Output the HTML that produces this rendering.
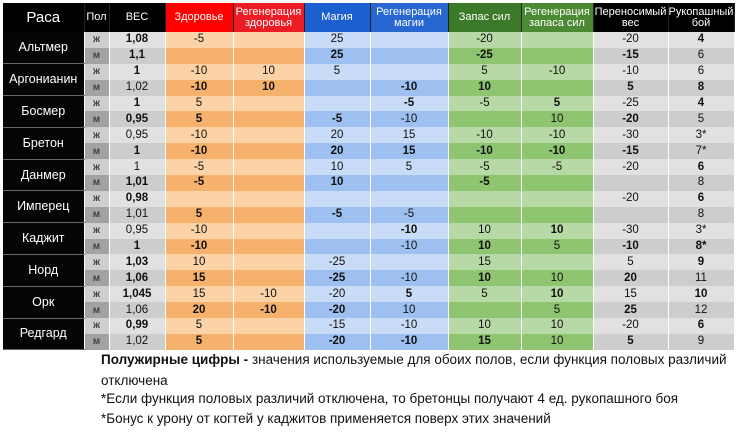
<!DOCTYPE html>
<html><head><meta charset="utf-8"><style>
body{margin:0;background:#fff;width:740px;height:445px;overflow:hidden;font-family:"Liberation Sans",Arial,sans-serif}
table{position:absolute;left:3px;top:3px;border-collapse:collapse;table-layout:fixed;width:731px}
td,th{padding:0;text-align:center;font-size:11.5px;color:#111;overflow:hidden}
td{white-space:nowrap}
th{height:29px;color:#fff;font-weight:normal;line-height:11px;font-size:11px;border-right:1px solid #222;white-space:normal}
th.big{font-size:15px}
tr.d td{height:15.9px;line-height:15px;border-right:1px solid rgba(255,255,255,.35)}
td.race{background:#050505;color:#fff;font-size:12.5px;border-bottom:1px solid #666}
tr.f td.p{background:#cfcfcf;color:#444;font-weight:bold;font-size:10px}
tr.m td.p{background:#a2a2a2;color:#444;font-weight:bold;font-size:10px}
tr.f td.w,tr.f td.r{background:#e1e1e1}
tr.m td.w,tr.m td.r{background:#cdcdcd}
tr.f td.o{background:#fbd3a6}
tr.m td.o{background:#f6b26d}
tr.f td.b{background:#c8dbf7}
tr.m td.b{background:#9ec0f1}
tr.f td.g{background:#b7d9a5}
tr.m td.g{background:#8fc470}
b{font-weight:bold}
.note{position:absolute;left:101px;font-size:13.5px;color:#111;white-space:nowrap}
</style></head><body>
<table>
<colgroup><col style="width:81px"><col style="width:25px"><col style="width:56px"><col style="width:68px"><col style="width:71px"><col style="width:66px"><col style="width:78px"><col style="width:73px"><col style="width:72px"><col style="width:75px"><col style="width:66px"></colgroup>
<tr><th class="big" style="background:#000">Раса</th><th style="background:#000">Пол</th><th style="background:#000">ВЕС</th><th style="background:#f00">Здоровье</th><th style="background:#ec1c24">Регенерация<br>здоровья</th><th style="background:#1b5fd0">Магия</th><th style="background:#2767cf">Регенерация<br>магии</th><th style="background:#3b7a28">Запас сил</th><th style="background:#4b8a33">Регенерация<br>запаса сил</th><th style="background:#000">Переносимый<br>вес</th><th style="background:#000">Рукопашный<br>бой</th></tr>

<tr class="d f"><td class="race" rowspan="2">Альтмер</td><td class="p">ж</td><td class="w"><b>1,08</b></td><td class="o">-5</td><td class="o"></td><td class="b">25</td><td class="b"></td><td class="g">-20</td><td class="g"></td><td class="r">-20</td><td class="r"><b>4</b></td></tr>
<tr class="d m"><td class="p">м</td><td class="w"><b>1,1</b></td><td class="o"></td><td class="o"></td><td class="b"><b>25</b></td><td class="b"></td><td class="g"><b>-25</b></td><td class="g"></td><td class="r"><b>-15</b></td><td class="r">6</td></tr>

<tr class="d f"><td class="race" rowspan="2">Аргонианин</td><td class="p">ж</td><td class="w"><b>1</b></td><td class="o">-10</td><td class="o">10</td><td class="b">5</td><td class="b"></td><td class="g">5</td><td class="g">-10</td><td class="r">-10</td><td class="r">6</td></tr>
<tr class="d m"><td class="p">м</td><td class="w">1,02</td><td class="o"><b>-10</b></td><td class="o"><b>10</b></td><td class="b"></td><td class="b"><b>-10</b></td><td class="g"><b>10</b></td><td class="g"></td><td class="r"><b>5</b></td><td class="r"><b>8</b></td></tr>

<tr class="d f"><td class="race" rowspan="2">Босмер</td><td class="p">ж</td><td class="w"><b>1</b></td><td class="o">5</td><td class="o"></td><td class="b"></td><td class="b"><b>-5</b></td><td class="g">-5</td><td class="g"><b>5</b></td><td class="r">-25</td><td class="r"><b>4</b></td></tr>
<tr class="d m"><td class="p">м</td><td class="w"><b>0,95</b></td><td class="o"><b>5</b></td><td class="o"></td><td class="b"><b>-5</b></td><td class="b">-10</td><td class="g"></td><td class="g">10</td><td class="r"><b>-20</b></td><td class="r">5</td></tr>

<tr class="d f"><td class="race" rowspan="2">Бретон</td><td class="p">ж</td><td class="w">0,95</td><td class="o">-10</td><td class="o"></td><td class="b">20</td><td class="b">15</td><td class="g">-10</td><td class="g">-10</td><td class="r">-30</td><td class="r">3*</td></tr>
<tr class="d m"><td class="p">м</td><td class="w"><b>1</b></td><td class="o"><b>-10</b></td><td class="o"></td><td class="b"><b>20</b></td><td class="b"><b>15</b></td><td class="g"><b>-10</b></td><td class="g"><b>-10</b></td><td class="r"><b>-15</b></td><td class="r">7*</td></tr>

<tr class="d f"><td class="race" rowspan="2">Данмер</td><td class="p">ж</td><td class="w">1</td><td class="o">-5</td><td class="o"></td><td class="b">10</td><td class="b">5</td><td class="g">-5</td><td class="g">-5</td><td class="r">-20</td><td class="r"><b>6</b></td></tr>
<tr class="d m"><td class="p">м</td><td class="w"><b>1,01</b></td><td class="o"><b>-5</b></td><td class="o"></td><td class="b"><b>10</b></td><td class="b"></td><td class="g"><b>-5</b></td><td class="g"></td><td class="r"></td><td class="r">8</td></tr>

<tr class="d f"><td class="race" rowspan="2">Имперец</td><td class="p">ж</td><td class="w"><b>0,98</b></td><td class="o"></td><td class="o"></td><td class="b"></td><td class="b"></td><td class="g"></td><td class="g"></td><td class="r">-20</td><td class="r"><b>6</b></td></tr>
<tr class="d m"><td class="p">м</td><td class="w">1,01</td><td class="o"><b>5</b></td><td class="o"></td><td class="b"><b>-5</b></td><td class="b">-5</td><td class="g"></td><td class="g"></td><td class="r"></td><td class="r">8</td></tr>

<tr class="d f"><td class="race" rowspan="2">Каджит</td><td class="p">ж</td><td class="w">0,95</td><td class="o">-10</td><td class="o"></td><td class="b"></td><td class="b"><b>-10</b></td><td class="g">10</td><td class="g"><b>10</b></td><td class="r">-30</td><td class="r">3*</td></tr>
<tr class="d m"><td class="p">м</td><td class="w"><b>1</b></td><td class="o"><b>-10</b></td><td class="o"></td><td class="b"></td><td class="b">-10</td><td class="g"><b>10</b></td><td class="g">5</td><td class="r"><b>-10</b></td><td class="r"><b>8*</b></td></tr>

<tr class="d f"><td class="race" rowspan="2">Норд</td><td class="p">ж</td><td class="w"><b>1,03</b></td><td class="o">10</td><td class="o"></td><td class="b">-25</td><td class="b"></td><td class="g">15</td><td class="g"></td><td class="r">5</td><td class="r"><b>9</b></td></tr>
<tr class="d m"><td class="p">м</td><td class="w"><b>1,06</b></td><td class="o"><b>15</b></td><td class="o"></td><td class="b"><b>-25</b></td><td class="b">-10</td><td class="g"><b>10</b></td><td class="g">10</td><td class="r"><b>20</b></td><td class="r">11</td></tr>

<tr class="d f"><td class="race" rowspan="2">Орк</td><td class="p">ж</td><td class="w"><b>1,045</b></td><td class="o">15</td><td class="o">-10</td><td class="b">-20</td><td class="b"><b>5</b></td><td class="g">5</td><td class="g"><b>10</b></td><td class="r">15</td><td class="r"><b>10</b></td></tr>
<tr class="d m"><td class="p">м</td><td class="w">1,06</td><td class="o"><b>20</b></td><td class="o"><b>-10</b></td><td class="b"><b>-20</b></td><td class="b">10</td><td class="g"></td><td class="g">5</td><td class="r"><b>25</b></td><td class="r">12</td></tr>

<tr class="d f"><td class="race" rowspan="2">Редгард</td><td class="p">ж</td><td class="w"><b>0,99</b></td><td class="o">5</td><td class="o"></td><td class="b">-15</td><td class="b">-10</td><td class="g">10</td><td class="g">10</td><td class="r">-20</td><td class="r"><b>6</b></td></tr>
<tr class="d m"><td class="p">м</td><td class="w">1,02</td><td class="o"><b>5</b></td><td class="o"></td><td class="b"><b>-20</b></td><td class="b"><b>-10</b></td><td class="g"><b>15</b></td><td class="g">10</td><td class="r"><b>5</b></td><td class="r">9</td></tr>
</table>

<div class="note" style="top:352px"><b>Полужирные цифры -</b> значения используемые для обоих полов, если функция половых различий</div>
<div class="note" style="top:373px">отключена</div>
<div class="note" style="top:391px">*Если функция половых различий отключена, то бретонцы получают 4 ед. рукопашного боя</div>
<div class="note" style="top:411px">*Бонус к урону от когтей у каджитов применяется поверх этих значений</div>
</body></html>
